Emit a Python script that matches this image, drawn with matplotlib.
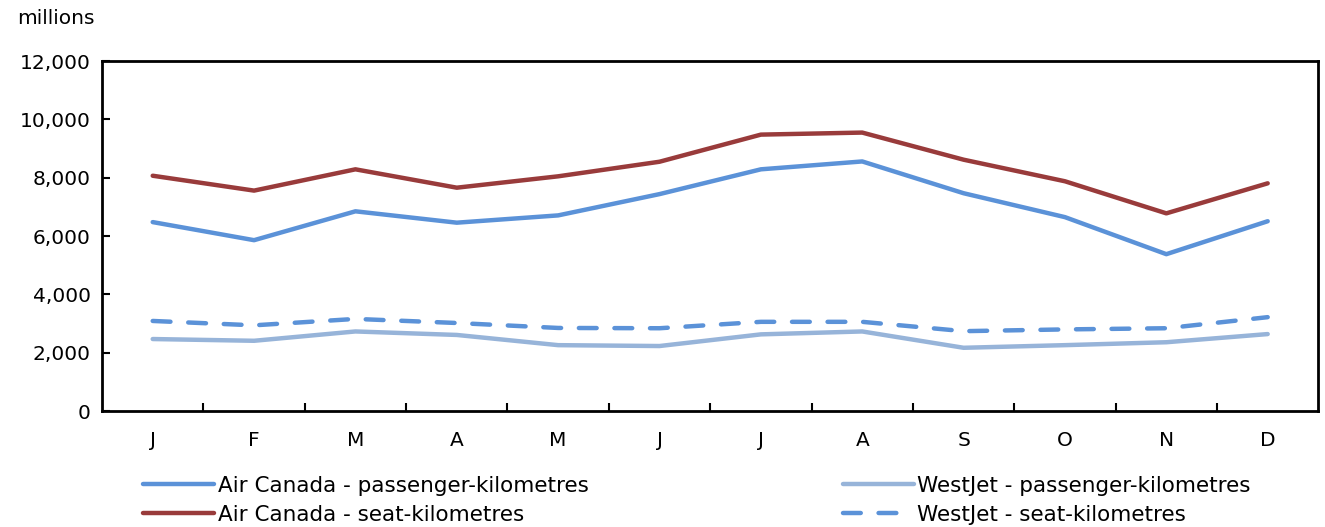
import matplotlib.pyplot as plt
from matplotlib.ticker import FuncFormatter, FixedLocator

# data (millions)
months = ["J", "F", "M", "A", "M", "J", "J", "A", "S", "O", "N", "D"]
ac_pass = [6480, 5860, 6850, 6460, 6710, 7440, 8290, 8560, 7470, 6650, 5380, 6510]
ac_seat = [8070, 7560, 8290, 7660, 8050, 8550, 9480, 9550, 8620, 7880, 6780, 7810]
wj_pass = [2470, 2410, 2730, 2610, 2260, 2230, 2630, 2730, 2170, 2260, 2360, 2640]
wj_seat = [3090, 2940, 3160, 3020, 2850, 2840, 3060, 3060, 2740, 2800, 2840, 3220]

plt.rcParams['font.family'] = ['DejaVu Sans']
plt.rcParams['font.size'] = 14.5

fig = plt.figure(figsize=(13.25, 5.27), dpi=100)
ax = fig.add_axes([0.077, 0.22, 0.918, 0.664])

x = list(range(len(months)))
l1, = ax.plot(x, ac_pass, color="#5B92D8", lw=3.2, solid_capstyle="round")
l2, = ax.plot(x, ac_seat, color="#993B3B", lw=3.2, solid_capstyle="round")
l3, = ax.plot(x, wj_pass, color="#97B4D9", lw=3.2, solid_capstyle="round")
l4, = ax.plot(x, wj_seat, color="#5B92D8", lw=3.2, dashes=(4.0, 4.0), dash_capstyle="round")

ax.set_xlim(-0.5, 11.5)
ax.set_ylim(0, 12000)
ax.set_yticks(range(0, 12001, 2000))
ax.yaxis.set_major_formatter(FuncFormatter(lambda v, p: f"{int(v):,}"))
ax.set_xticks(x)
ax.set_xticklabels(months)
ax.xaxis.set_minor_locator(FixedLocator([i + 0.5 for i in range(11)]))
ax.tick_params(axis="x", which="major", length=0, pad=14)
ax.tick_params(axis="x", which="minor", direction="in", length=6, width=1.5)
ax.tick_params(axis="y", direction="in", length=6, width=1.5, pad=8)
for s in ax.spines.values():
    s.set_linewidth(2)

fig.text(0.013, 0.955, "millions")

kw = dict(loc="upper left", frameon=False, fontsize=15.5, handlelength=3.3,
          handletextpad=0.15, labelspacing=0.42, borderpad=0)
leg1 = fig.legend([l1, l2], ["Air Canada - passenger-kilometres", "Air Canada - seat-kilometres"],
                  bbox_to_anchor=(0.1, 0.118), **kw)
leg2 = fig.legend([l3, l4], ["WestJet - passenger-kilometres", "WestJet - seat-kilometres"],
                  bbox_to_anchor=(0.628, 0.118), **kw)

fig.savefig("out.png", dpi=100)
